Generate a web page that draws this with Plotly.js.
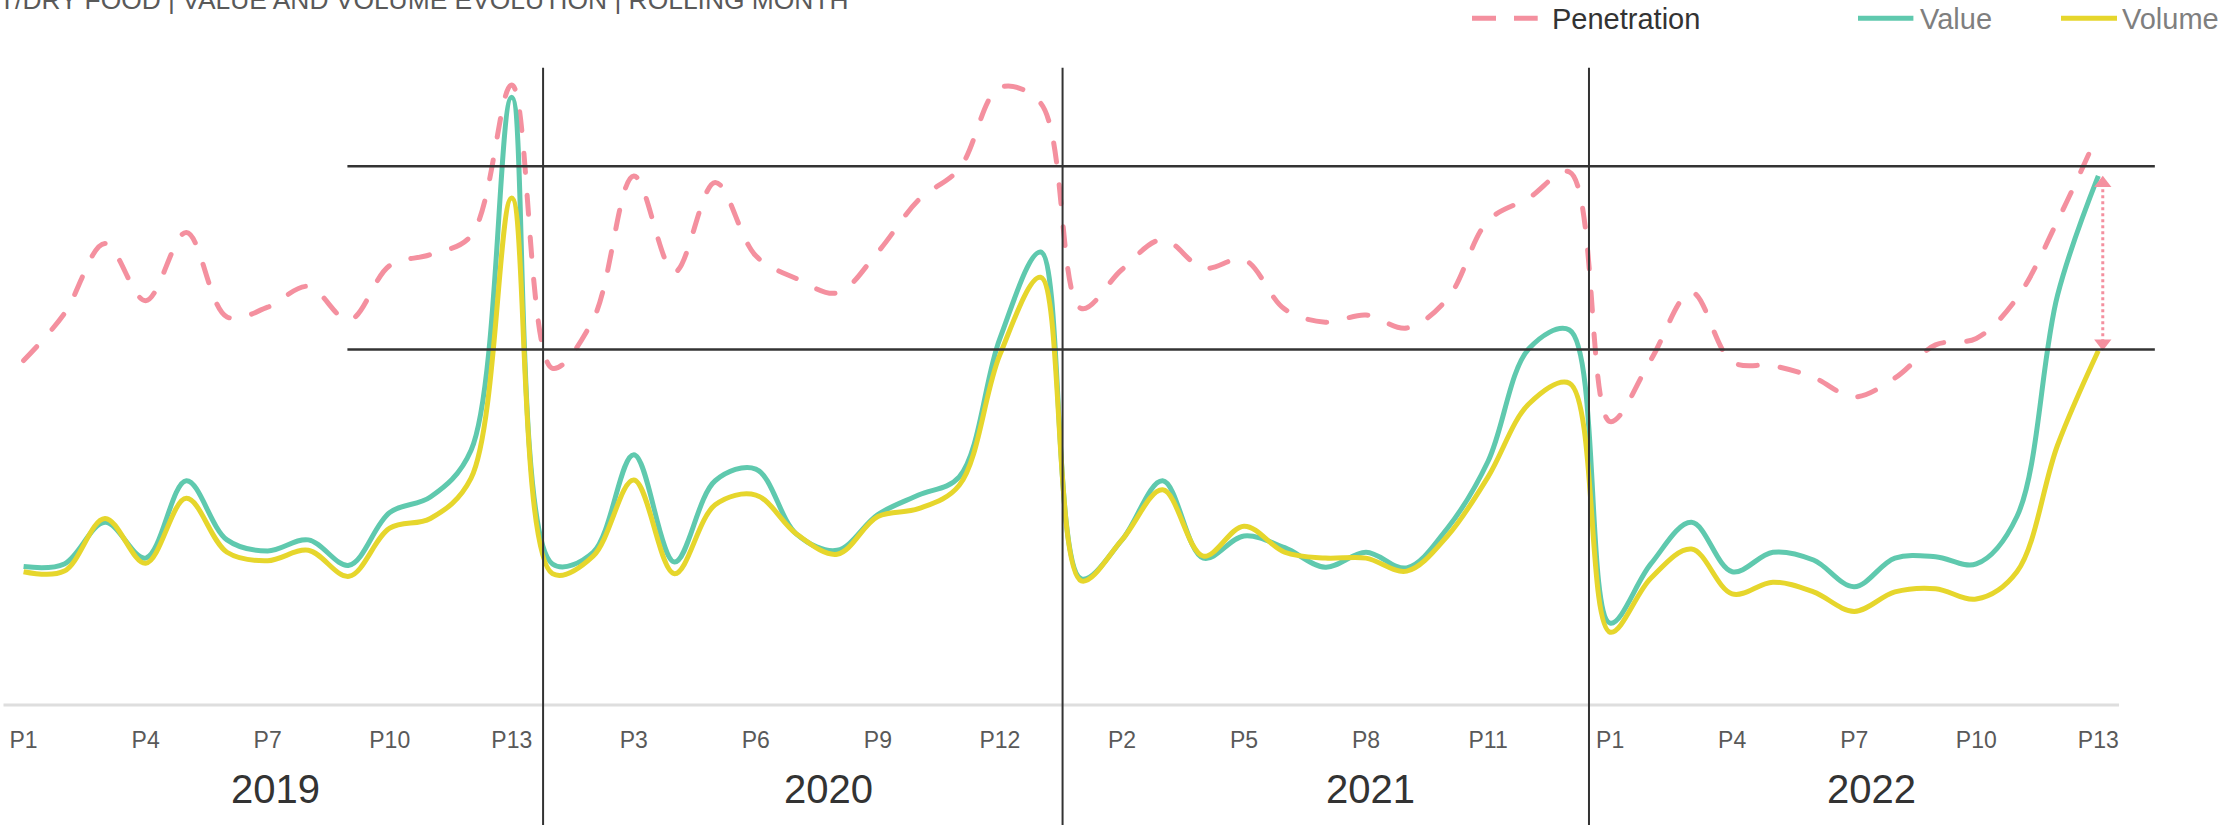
<!DOCTYPE html>
<html>
<head>
<meta charset="utf-8">
<script src="https://cdn.plot.ly/plotly-3.0.1.min.js"></script>
<style>
html,body{margin:0;padding:0;background:#fff;}
#chart{width:2224px;height:825px;}
.scatterlayer .trace:first-child .js-line{stroke-linecap:round;}
</style>
</head>
<body>
<div id="chart"></div>
<script>
// ---------- data ----------
const years = ['2019', '2020', '2021', '2022'];
const periods = ['P1','P2','P3','P4','P5','P6','P7','P8','P9','P10','P11','P12','P13'];
const seriesNames = ['Penetration', 'Value', 'Volume'];

const penetration = [
  53.0, 60.2, 71.0, 62.2, 72.7, 59.7, 61.2, 64.4, 59.2, 67.6, 69.3, 72.2, 95.4,
  51.8, 59.3, 81.4, 66.6, 80.4, 69.1, 65.6, 63.4, 69.7, 77.7, 82.5, 95.0, 92.6,
  61.0, 67.0, 71.6, 67.2, 68.5, 60.9, 58.9, 60.0, 58.0, 62.5, 74.5, 78.0, 82.0,
  43.6, 53.1, 63.5, 52.8, 52.2, 50.4, 47.4, 50.3, 55.4, 56.4, 62.6, 74.5, 88.0
];
const value = [
  21.3, 21.7, 28.1, 22.6, 34.5, 25.4, 23.7, 25.4, 21.5, 29.6, 32.0, 39.2, 93.5,
  21.7, 23.5, 38.5, 22.0, 34.5, 36.3, 26.3, 23.8, 29.3, 32.3, 35.1, 56.4, 69.7,
  19.4, 25.4, 34.5, 22.6, 26.0, 24.2, 21.2, 23.5, 21.1, 27.2, 37.5, 54.8, 57.7,
  12.6, 21.7, 28.1, 20.5, 23.5, 22.3, 18.2, 22.6, 22.8, 21.7, 29.0, 63.1, 81.4
];
const volume = [
  20.5, 20.6, 28.7, 21.8, 31.8, 23.5, 22.2, 23.8, 19.8, 27.2, 28.7, 34.9, 78.0,
  20.2, 22.9, 34.6, 20.2, 30.8, 32.3, 26.3, 23.2, 29.0, 30.2, 33.8, 53.9, 65.8,
  19.1, 25.4, 33.1, 22.9, 27.5, 23.5, 22.6, 22.6, 20.6, 26.0, 35.1, 46.3, 49.5,
  11.2, 19.5, 24.0, 17.1, 18.9, 17.4, 14.4, 17.4, 17.9, 16.3, 20.5, 40.0, 54.5
];
const referenceLevels = [82.9, 54.7];
const titleText = 'T/DRY FOOD | VALUE AND VOLUME EVOLUTION | ROLLING MONTH';

// ---------- build ----------
const FONT = '"Liberation Sans", Arial, Helvetica, sans-serif';
const C_PEN = '#f4909f', C_VAL = '#5fc9ae', C_VOL = '#e6d62c', C_LINE = '#333333';

const x = [], tickvals = [], ticktext = [];
years.forEach((y, yi) => periods.forEach((p, pi) => {
  const i = yi * periods.length + pi;
  x.push(i);
  if (i % 3 === 0) { tickvals.push(i); ticktext.push(p); }
}));
const last = x.length - 1;
const arrowX = last + 0.11;
const headOffset = 1.15; // half marker size in data units

const traces = [
  {x: x, y: penetration, name: seriesNames[0], type: 'scatter', mode: 'lines',
   line: {color: C_PEN, width: 5, shape: 'spline', smoothing: 1, dash: '19px,23px'}},
  {x: x, y: value, name: seriesNames[1], type: 'scatter', mode: 'lines',
   line: {color: C_VAL, width: 5, shape: 'spline', smoothing: 1}},
  {x: x, y: volume, name: seriesNames[2], type: 'scatter', mode: 'lines',
   line: {color: C_VOL, width: 5, shape: 'spline', smoothing: 1}},
  {x: [arrowX, arrowX], y: [value[last] - headOffset, volume[last] + headOffset],
   type: 'scatter', mode: 'markers', showlegend: false, hoverinfo: 'skip',
   marker: {symbol: ['triangle-up', 'triangle-down'], size: 15, color: C_PEN}}
];

const H = 715; // plot-area height in px
const py = v => 1 - v / H;
const px = v => v / 2224;

const shapes = [
  {type: 'line', xref: 'x', yref: 'y', x0: -0.494, x1: 51.51, y0: 0, y1: 0,
   line: {color: '#dedede', width: 3}, layer: 'below'},
  {type: 'line', xref: 'x', yref: 'y', x0: arrowX, x1: arrowX,
   y0: value[last] - headOffset, y1: volume[last] + headOffset,
   line: {color: C_PEN, width: 3, dash: 'dot'}}
];
referenceLevels.forEach(lv => shapes.push({type: 'line', xref: 'x', yref: 'y',
  x0: 7.96, x1: 52.39, y0: lv, y1: lv, line: {color: C_LINE, width: 2.5}}));
[12.77, 25.54, 38.48].forEach(xv => shapes.push({type: 'line', xref: 'x', yref: 'paper',
  x0: xv, x1: xv, y0: -0.16, y1: py(67.8), line: {color: C_LINE, width: 2}}));
// legend symbols
shapes.push({type: 'line', xref: 'paper', yref: 'paper', x0: px(1472), x1: px(1537.7), y0: py(18.3), y1: py(18.3),
  line: {color: C_PEN, width: 5, dash: '24px,18px'}});
shapes.push({type: 'line', xref: 'paper', yref: 'paper', x0: px(1858), x1: px(1913.4), y0: py(18.3), y1: py(18.3),
  line: {color: C_VAL, width: 5}});
shapes.push({type: 'line', xref: 'paper', yref: 'paper', x0: px(2061), x1: px(2117), y0: py(18.3), y1: py(18.3),
  line: {color: C_VOL, width: 5}});

const annotations = [
  {xref: 'paper', yref: 'paper', x: px(-2.6), y: 1 + 17.4 / H, xanchor: 'left', yanchor: 'top',
   text: titleText, showarrow: false, font: {family: FONT, size: 26.4, color: '#595959'}},
  {xref: 'paper', yref: 'paper', x: px(1550), y: py(18.6), xanchor: 'left', yanchor: 'middle',
   text: seriesNames[0], showarrow: false, font: {family: FONT, size: 29, color: '#333333'}},
  {xref: 'paper', yref: 'paper', x: px(1918), y: py(18.6), xanchor: 'left', yanchor: 'middle',
   text: seriesNames[1], showarrow: false, font: {family: FONT, size: 29, color: '#7f7f7f'}},
  {xref: 'paper', yref: 'paper', x: px(2120), y: py(18.6), xanchor: 'left', yanchor: 'middle',
   text: seriesNames[2], showarrow: false, font: {family: FONT, size: 29, color: '#7f7f7f'}}
];
const yearCenters = [6.19, 19.78, 33.12, 45.43];
years.forEach((yr, i) => annotations.push({xref: 'x', yref: 'paper', x: yearCenters[i], y: py(789),
  xanchor: 'center', yanchor: 'middle', text: yr, showarrow: false,
  font: {family: FONT, size: 40, color: '#333333'}}));

const layout = {
  width: 2224, height: 825,
  margin: {l: 0, r: 0, t: 0, b: 110, pad: 0},
  paper_bgcolor: '#ffffff', plot_bgcolor: '#ffffff',
  showlegend: false,
  font: {family: FONT},
  xaxis: {range: [-0.580, 54.09], showgrid: false, zeroline: false, showline: false,
    ticks: '', tickvals: tickvals, ticktext: ticktext, ticklabelstandoff: 9,
    tickfont: {family: FONT, size: 23, color: '#595959'}, fixedrange: true},
  yaxis: {range: [-1.538, 108.46], visible: false, fixedrange: true},
  shapes: shapes,
  annotations: annotations
};

Plotly.newPlot('chart', traces, layout, {displayModeBar: false, staticPlot: true});
</script>
</body>
</html>
